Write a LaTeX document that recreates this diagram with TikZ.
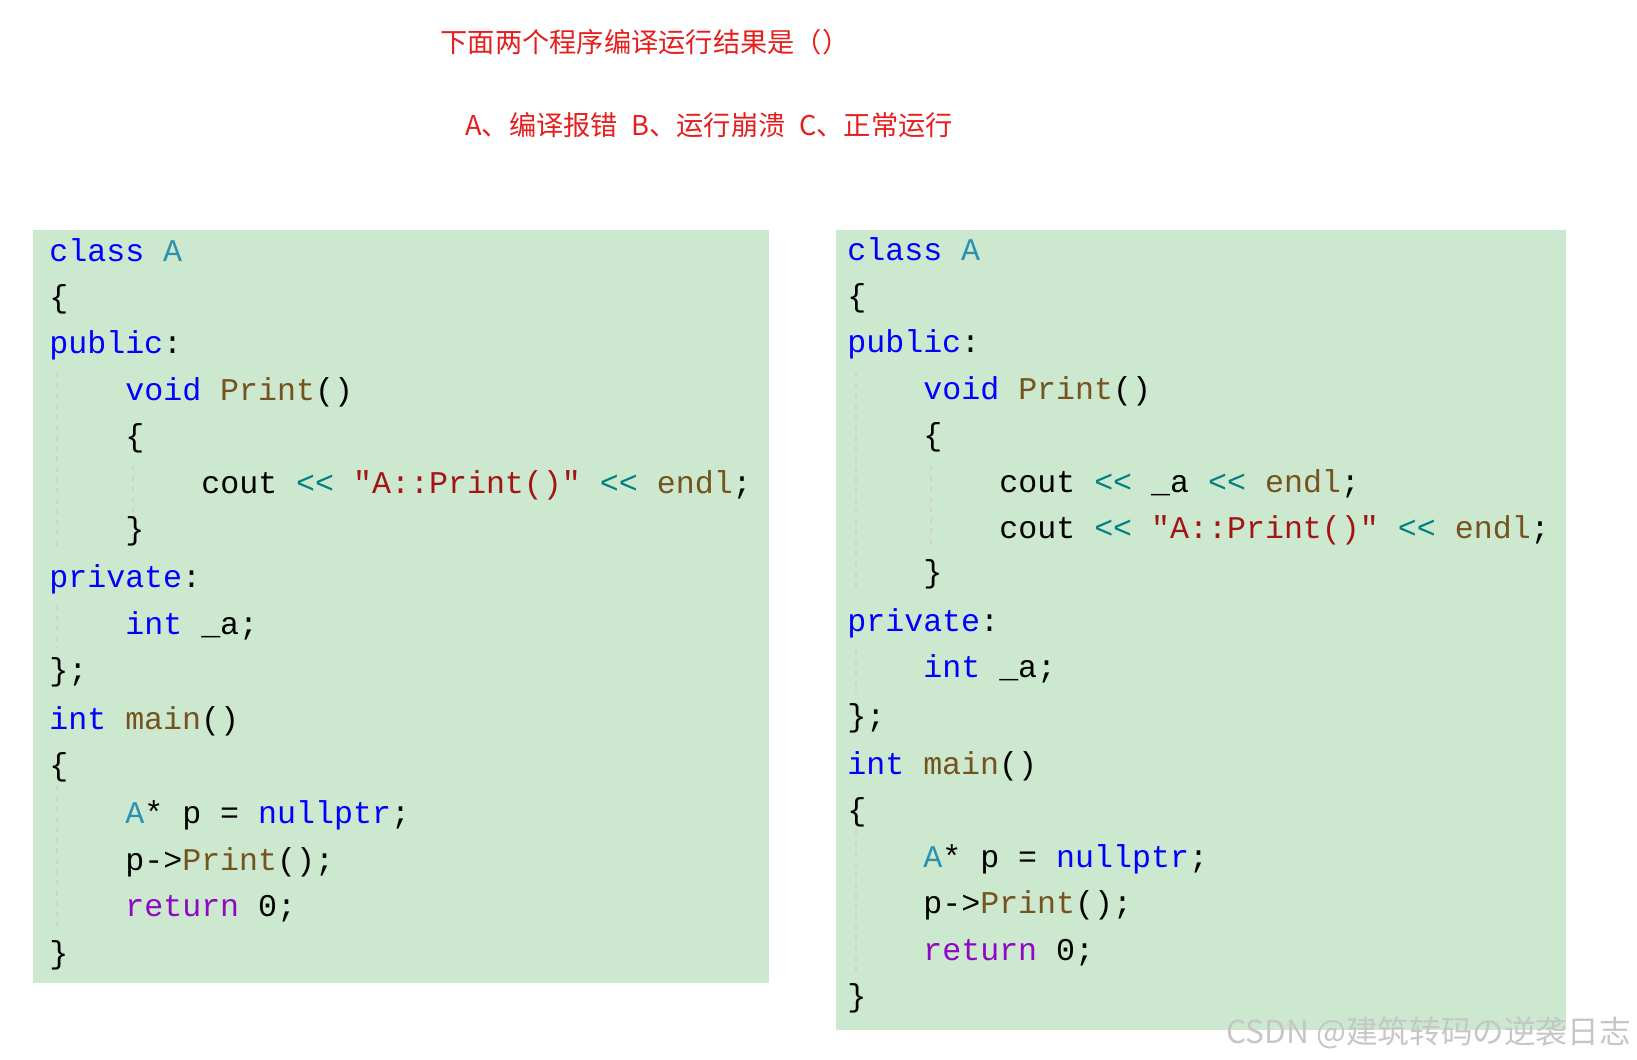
\documentclass[tikz,border=0pt]{standalone}
\usepackage{fontspec}
\setmonofont{Liberation Mono}
\newfontfamily\cjk{Noto Sans CJK SC}
\definecolor{codebg}{RGB}{204,232,207}
\definecolor{kw}{RGB}{0,0,255}
\definecolor{ty}{RGB}{43,145,175}
\definecolor{fn}{RGB}{116,83,31}
\definecolor{st}{RGB}{163,21,21}
\definecolor{op}{RGB}{0,128,128}
\definecolor{rt}{RGB}{143,8,196}
\definecolor{qred}{RGB}{230,30,30}
\newcommand{\kw}[1]{\textcolor{kw}{#1}}
\newcommand{\ty}[1]{\textcolor{ty}{#1}}
\newcommand{\fn}[1]{\textcolor{fn}{#1}}
\newcommand{\st}[1]{\textcolor{st}{#1}}
\newcommand{\op}[1]{\textcolor{op}{#1}}
\newcommand{\rt}[1]{\textcolor{rt}{#1}}
\begin{document}
\begin{tikzpicture}[x=0.02cm,y=-0.02cm]
% estilos
\tikzset{code/.style={anchor=base west,inner sep=0pt,font=\ttfamily\fontsize{18}{20}\selectfont},
 title/.style={text=qred,font=\cjk\fontsize{15.5}{18}\selectfont},
 guia/.style={gray!35,dashed,line width=0.8pt}}
\useasboundingbox (0,0) rectangle (1637,1059);
% preguntas
\node[title] (t1) at (645,42) {下面两个程序编译运行结果是（）};
\node[title] (t2) at (709,125) {A、编译报错\enspace B、运行崩溃\enspace C、正常运行};
% fondos
\fill[codebg] (33,230) rectangle (769,983);
\fill[codebg] (836,230) rectangle (1566,1030);
% programa izquierdo
\def\d{46.4}
\begin{scope}[every node/.style={code}]
\node (l1) at (49,261) {\kw{class} \ty{A}};
\node (l2) at (49,{261+\d}) {\{};
\node (l3) at (49,{261+2*\d}) {\kw{public}:};
\node (l4) at (125,{261+3*\d}) {\kw{void} \fn{Print}()};
\node (l5) at (125,{261+4*\d}) {\{};
\node (l6) at (201,{261+5*\d}) {cout \op{<<} \st{"A::Print()"} \op{<<} \fn{endl};};
\node (l7) at (125,{261+6*\d}) {\}};
\node (l8) at (49,{263+7*\d}) {\kw{private}:};
\node (l9) at (125,{263+8*\d}) {\kw{int} \_a;};
\node (l10) at (49,{263+9*\d}) {\};};
\node (l11) at (49,{265+10*\d}) {\kw{int} \fn{main}()};
\node (l12) at (49,{265+11*\d}) {\{};
\node (l13) at (125,{267+12*\d}) {\ty{A}* p = \kw{nullptr};};
\node (l14) at (125,{267+13*\d}) {p->\fn{Print}();};
\node (l15) at (125,{267+14*\d}) {\rt{return} 0;};
\node (l16) at (49,{267+15*\d}) {\}};
\end{scope}
\draw[guia] (57,372) -- (57,548);
\draw[guia] (133,465) -- (133,512);
\draw[guia] (57,605) -- (57,648);
\draw[guia] (57,785) -- (57,930);
% programa derecho
\begin{scope}[every node/.style={code}]
\node (r1) at (847,260) {\kw{class} \ty{A}};
\node (r2) at (847,{260+\d}) {\{};
\node (r3) at (847,{260+2*\d}) {\kw{public}:};
\node (r4) at (923,{260+3*\d}) {\kw{void} \fn{Print}()};
\node (r5) at (923,{260+4*\d}) {\{};
\node (r6) at (999,{260+5*\d}) {cout \op{<<} \_a \op{<<} \fn{endl};};
\node (r7) at (999,{260+6*\d}) {cout \op{<<} \st{"A::Print()"} \op{<<} \fn{endl};};
\node (r8) at (923,{258+7*\d}) {\}};
\node (r9) at (847,{260+8*\d}) {\kw{private}:};
\node (r10) at (923,{260+9*\d}) {\kw{int} \_a;};
\node (r11) at (847,{262+10*\d}) {\};};
\node (r12) at (847,{264+11*\d}) {\kw{int} \fn{main}()};
\node (r13) at (847,{264+12*\d}) {\{};
\node (r14) at (923,{264+13*\d}) {\ty{A}* p = \kw{nullptr};};
\node (r15) at (923,{264+14*\d}) {p->\fn{Print}();};
\node (r16) at (923,{264+15*\d}) {\rt{return} 0;};
\node (r17) at (847,{264+16*\d}) {\}};
\end{scope}
\draw[guia] (856,372) -- (856,594);
\draw[guia] (931,465) -- (931,550);
\draw[guia] (856,650) -- (856,695);
\draw[guia] (856,830) -- (856,975);
% marca de agua
\node[anchor=east,text=gray!45,font=\cjk\fontsize{18}{20}\selectfont] (wm) at (1637,1033) {CSDN @建筑转码の逆袭日志};
\end{tikzpicture}
\end{document}
